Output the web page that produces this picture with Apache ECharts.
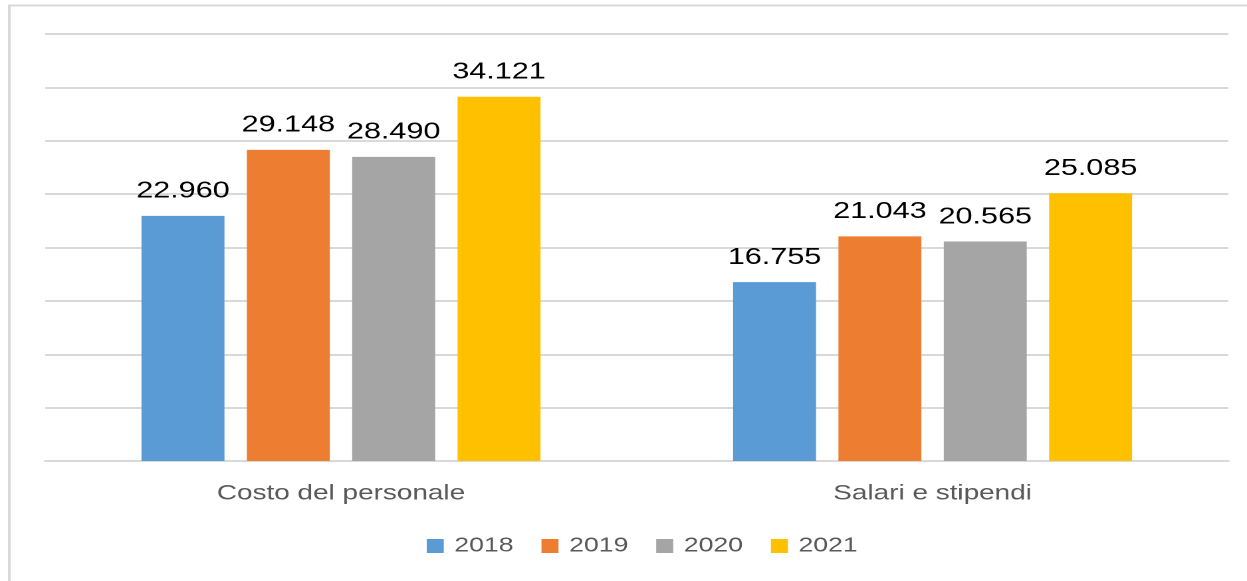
<!DOCTYPE html>
<html>
<head>
<meta charset="utf-8">
<script src="https://cdn.jsdelivr.net/npm/echarts@6/dist/echarts.min.js"></script>
<style>
html,body{margin:0;padding:0;background:#fff;overflow:hidden;}
#chart{width:938px;height:581px;transform:scaleX(1.3294);transform-origin:0 0;}
</style>
</head>
<body>
<div id="chart"></div>
<script>
const categories = ['Costo del personale', 'Salari e stipendi'];
const years = ['2018', '2019', '2020', '2021'];
const s2018 = [22960, 16755];
const s2019 = [29148, 21043];
const s2020 = [28490, 20565];
const s2021 = [34121, 25085];
const colors = ['#5b9bd5', '#ed7d31', '#a5a5a5', '#ffc000'];

function fmt(v){
  return String(v).replace(/\B(?=(\d{3})+(?!\d))/g, '.');
}

const seriesData = [s2018, s2019, s2020, s2021];
const chart = echarts.init(document.getElementById('chart'), null, {devicePixelRatio: 2});
chart.setOption({
  animation: false,
  color: colors,
  graphic: [{
    type: 'rect',
    shape: {x: 7, y: 5.5, width: 1400, height: 700},
    style: {fill: 'none', stroke: '#d9d9d9', lineWidth: 2},
    silent: true, z: -10
  }],
  grid: {left: 34, right: 14, top: 34, bottom: 120},
  legend: {
    bottom: 20, left: 316,
    itemWidth: 12.8, itemHeight: 14, itemGap: 21,
    icon: 'rect',
    textStyle: {color: '#595959', fontSize: 20, fontFamily: 'Liberation Sans', padding: [0, 0, 0, 3]},
    data: years
  },
  xAxis: {
    type: 'category',
    data: categories,
    axisLine: {lineStyle: {color: '#d9d9d9', width: 2}},
    axisTick: {show: false},
    axisLabel: {color: '#595959', fontSize: 21, margin: 22, fontFamily: 'Liberation Sans'}
  },
  yAxis: {
    type: 'value', min: 0, max: 40000, interval: 5000,
    axisLabel: {show: false},
    axisLine: {show: false}, axisTick: {show: false},
    splitLine: {lineStyle: {color: '#d9d9d9', width: 2}}
  },
  series: years.map((y, i) => ({
    name: y, type: 'bar', data: seriesData[i],
    barWidth: 62.4, barGap: '27%',
    itemStyle: {color: colors[i]},
    label: {
      show: true, position: 'top', distance: 13,
      color: '#000', fontSize: 23, fontFamily: 'Liberation Sans',
      formatter: p => fmt(p.value)
    }
  }))
});
</script>
</body>
</html>
